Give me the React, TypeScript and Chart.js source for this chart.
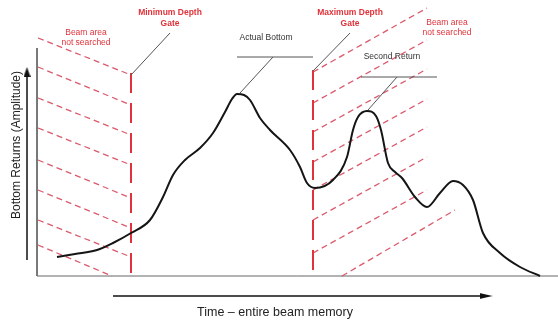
import React, { useEffect, useRef } from "react";
import { Chart, registerables } from "chart.js";
Chart.register(...registerables);

// Axis ranges (arbitrary units: time along beam memory, amplitude of bottom returns)
const TIME_MIN = -7.4;
const TIME_MAX = 104.2;
const AMP_MIN = -18.4;
const AMP_MAX = 110.4;

// Bottom return waveform
const curveTime = [4, 7.6, 12, 15.2, 18.8, 22.6, 25.2, 27.2, 29.6, 32.6, 35.2, 37.6, 39, 40, 41.4, 42.6, 44.6, 46.6, 50.6, 52.6, 54, 55.6, 59.2, 62, 63.2, 64.2, 66, 67.8, 68.8, 70.2, 71.6, 73, 75.6, 78, 80.6, 83.2, 85.2, 87.2, 89.2, 92.6, 96.6, 100.6];
const curveAmp = [7.6, 8.8, 10.4, 13.2, 17.2, 22.4, 31.6, 40.4, 46.4, 51.2, 57.2, 65.6, 70.8, 72.8, 72.4, 70.4, 63.2, 58.4, 50.4, 43.6, 37.2, 35.2, 38.4, 47.6, 58.4, 63.6, 66, 64, 58.4, 45.2, 41.6, 39.2, 31.6, 27.6, 33.2, 38, 36.4, 30.4, 17.2, 9.2, 3.6, 0];

// Depth gates
const minGateTime = 18.8;
const minGateTop = 81.2;
const maxGateTime = 55.2;
const maxGateTop = 82.4;

// Axes extents
const axisTop = 91.2;
const axisEnd = 104.2;

// Hatching (beam area not searched)
const leftHatchStartTime = [0.2, 0.2, 0.2, 0.2, 0.2, 0.2, 0.2, 0.2];
const leftHatchStartAmp = [95.2, 83.6, 71.2, 59.2, 46.4, 34.4, 22.4, 12.4];
const leftHatchEndTime = [18.8, 18.8, 18.8, 18.8, 18.8, 18.8, 18.8, 15];
const leftHatchEndAmp = [80.4, 68.4, 56.4, 44.4, 31.2, 19.2, 7.6, 0];
const rightHatchStartTime = [55.2, 55.2, 55.2, 55.2, 55.2, 55.2, 55.2, 61];
const rightHatchStartAmp = [81.6, 69.2, 57.6, 45.6, 34.4, 22.4, 9.2, 0];
const rightHatchEndTime = [78, 78, 78, 78, 78, 78, 78, 83.6];
const rightHatchEndAmp = [107.2, 94.4, 82.8, 70.8, 59.6, 47.6, 34.4, 26.4];

// Leader lines [t1, a1, t2, a2]
const minGateLeader = [18.8, 80.4, 26.6, 97.2];
const maxGateLeader = [55.2, 82, 62.6, 97.2];
const actualBottomShelf = [40, 87.6, 55.2, 87.6];
const actualBottomLeader = [47.2, 87.6, 40.6, 73.2];
const secondReturnShelf = [64.8, 79.6, 80, 79.6];
const secondReturnLeader = [72, 79.6, 66.2, 66.4];

// Axis title arrows
const timeArrow = [15.2, -8, 89.8, -8];
const ampArrow = [-2, 6.4, -2, 81.6];

// Texts
const titleY = "Bottom Returns (Amplitude)";
const titleX = "Time \u2013 entire beam memory";
const minGateLabel = ["Minimum Depth", "Gate"];
const maxGateLabel = ["Maximum Depth", "Gate"];
const notSearchedLabel = ["Beam area", "not searched"];
const actualBottomLabel = "Actual Bottom";
const secondReturnLabel = "Second Return";

const RED = "#e0323a";
const HATCH = "rgba(214,72,92,0.9)";
const GRAY = "#555555";

function makeArrow(len: number, wid: number): HTMLCanvasElement {
  const c = document.createElement("canvas");
  c.width = len;
  c.height = wid;
  const g = c.getContext("2d")!;
  g.fillStyle = "#111";
  g.beginPath();
  g.moveTo(0, 0);
  g.lineTo(len, wid / 2);
  g.lineTo(0, wid);
  g.closePath();
  g.fill();
  return c;
}

function seg(s: number[], color: string, width: number, dash: number[] = []) {
  return {
    data: [
      { x: s[0], y: s[1] },
      { x: s[2], y: s[3] },
    ],
    showLine: true,
    borderColor: color,
    borderWidth: width,
    borderDash: dash,
    pointRadius: 0,
    tension: 0,
  };
}

type Txt = { lines: string[]; t: number; a: number[]; font: string; color: string; rot?: number };

const texts: Txt[] = [
  { lines: minGateLabel, t: 26.6, a: [105.2, 100.8], font: "bold 8.5px 'Liberation Sans', Arial, sans-serif", color: RED },
  { lines: maxGateLabel, t: 62.6, a: [105.2, 100.8], font: "bold 8.5px 'Liberation Sans', Arial, sans-serif", color: RED },
  { lines: notSearchedLabel, t: 9.8, a: [97.2, 93.2], font: "8.5px 'Liberation Sans', Arial, sans-serif", color: RED },
  { lines: notSearchedLabel, t: 82, a: [101.2, 97.2], font: "8.5px 'Liberation Sans', Arial, sans-serif", color: RED },
  { lines: [actualBottomLabel], t: 45.8, a: [95.2], font: "8.5px 'Liberation Sans', Arial, sans-serif", color: "#333" },
  { lines: [secondReturnLabel], t: 71, a: [87.6], font: "8.5px 'Liberation Sans', Arial, sans-serif", color: "#333" },
  { lines: [titleX], t: 47.6, a: [-14.8], font: "12.5px 'Liberation Sans', Arial, sans-serif", color: "#222" },
  { lines: [titleY], t: -4, a: [52.4], font: "12px 'Liberation Sans', Arial, sans-serif", color: "#222", rot: -90 },
];

const textPlugin = {
  id: "diagramText",
  afterDatasetsDraw(chart: any) {
    const { ctx, scales } = chart;
    const xs = scales.x;
    const ys = scales.y;
    ctx.save();
    ctx.textAlign = "center";
    ctx.textBaseline = "middle";
    for (const t of texts) {
      ctx.font = t.font;
      ctx.fillStyle = t.color;
      t.lines.forEach((line, i) => {
        const px = xs.getPixelForValue(t.t);
        const py = ys.getPixelForValue(t.a[i]);
        if (t.rot) {
          ctx.save();
          ctx.translate(px, py);
          ctx.rotate((t.rot * Math.PI) / 180);
          ctx.fillText(line, 0, 0);
          ctx.restore();
        } else {
          ctx.fillText(line, px, py);
        }
      });
    }
    ctx.restore();
  },
};

export default function App() {
  const ref = useRef<HTMLCanvasElement>(null);
  useEffect(() => {
    if (!ref.current) return;
    const headX = makeArrow(13, 6);
    const headY = makeArrow(10, 7);
    const datasets: any[] = [];
    datasets.push({
      data: curveTime.map((t, i) => ({ x: t, y: curveAmp[i] })),
      showLine: true,
      borderColor: "#151515",
      borderWidth: 2,
      pointRadius: 0,
      cubicInterpolationMode: "monotone",
    });
    // leaders
    [minGateLeader, maxGateLeader, actualBottomShelf, actualBottomLeader, secondReturnShelf, secondReturnLeader].forEach((s) =>
      datasets.push(seg(s, GRAY, 1))
    );
    // gates
    datasets.push(seg([minGateTime, minGateTop, minGateTime, 0], RED, 2, [20, 10]));
    datasets.push(seg([maxGateTime, maxGateTop, maxGateTime, 0], RED, 2, [20, 10]));
    // hatching
    leftHatchStartAmp.forEach((a, i) =>
      datasets.push(seg([leftHatchStartTime[i], a, leftHatchEndTime[i], leftHatchEndAmp[i]], HATCH, 1.3, [6, 4]))
    );
    rightHatchStartAmp.forEach((a, i) =>
      datasets.push(seg([rightHatchStartTime[i], a, rightHatchEndTime[i], rightHatchEndAmp[i]], HATCH, 1.3, [6, 4]))
    );
    // axes
    datasets.push({
      data: [
        { x: 0, y: axisTop },
        { x: 0, y: 0 },
        { x: axisEnd, y: 0 },
      ],
      showLine: true,
      borderColor: "#666",
      borderWidth: 1,
      pointRadius: 0,
    });
    // title arrows
    datasets.push(seg(timeArrow, "#111", 1.5));
    datasets.push(seg(ampArrow, "#111", 1.5));
    datasets.push({ data: [{ x: timeArrow[2], y: timeArrow[3] }], pointStyle: headX, pointRadius: 1, rotation: 0, showLine: false });
    datasets.push({ data: [{ x: ampArrow[2], y: ampArrow[3] }], pointStyle: headY, pointRadius: 1, rotation: -90, showLine: false });

    const chart = new Chart(ref.current, {
      type: "scatter",
      data: { datasets },
      options: {
        responsive: false,
        animation: false,
        devicePixelRatio: 1,
        layout: { padding: 0, autoPadding: false },
        plugins: { legend: { display: false }, tooltip: { enabled: false } },
        events: [],
        scales: {
          x: { type: "linear", min: TIME_MIN, max: TIME_MAX, display: false },
          y: { type: "linear", min: AMP_MIN, max: AMP_MAX, display: false },
        },
      },
      plugins: [textPlugin],
    } as any);
    return () => chart.destroy();
  }, []);
  return (
    <div style={{ position: "fixed", left: 0, top: 0, width: 558, height: 322, background: "#fff" }}>
      <canvas ref={ref} width={558} height={322} style={{ display: "block" }} />
    </div>
  );
}
